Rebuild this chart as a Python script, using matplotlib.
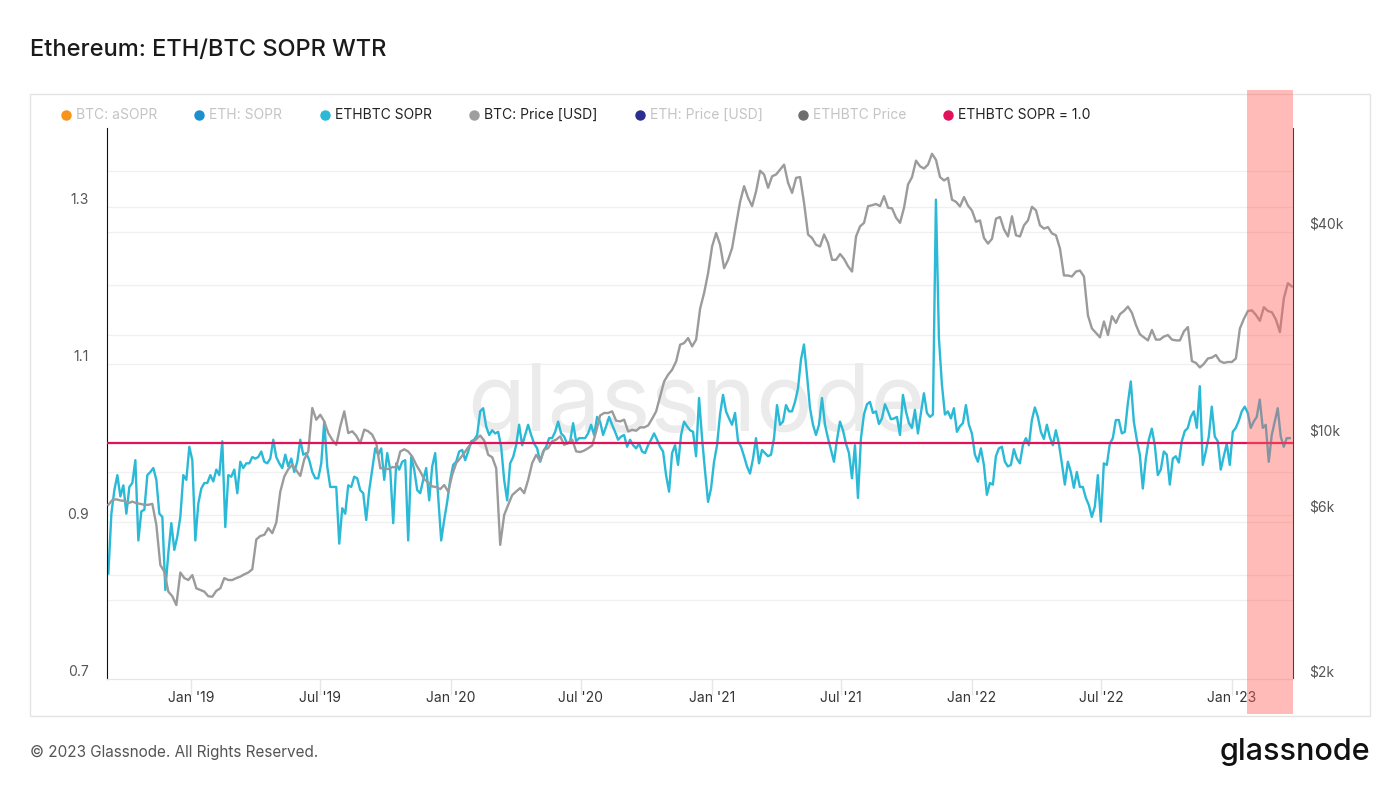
import pandas as pd
import matplotlib
matplotlib.use("Agg")
import matplotlib.pyplot as plt
import matplotlib.dates as mdates
from matplotlib.lines import Line2D
from matplotlib.patches import Rectangle
from matplotlib.ticker import FixedLocator, NullLocator, FuncFormatter

plt.rcParams["font.family"] = ["Inter", "DejaVu Sans"]

# ETH/BTC SOPR (one value every ~4 days)
ethbtc_sopr = [
    0.834, 0.910, 0.940, 0.959, 0.932, 0.946, 0.910, 0.944, 0.949, 0.978,
    0.876, 0.913, 0.915, 0.959, 0.963, 0.968, 0.953, 0.910, 0.906, 0.813,
    0.860, 0.898, 0.864, 0.881, 0.906, 0.959, 0.953, 0.995, 0.978, 0.876,
    0.923, 0.942, 0.949, 0.949, 0.959, 0.951, 0.966, 0.959, 1.002, 0.893,
    0.959, 0.957, 0.966, 0.936, 0.976, 0.968, 0.974, 0.974, 0.982, 0.980,
    0.982, 0.989, 0.976, 0.974, 0.980, 1.004, 0.982, 0.974, 0.968, 0.985,
    0.970, 0.980, 0.963, 0.976, 1.004, 0.985, 0.987, 0.978, 0.963, 0.955,
    # 2019 H2
    0.955, 0.974, 1.027, 0.970, 0.944, 0.944, 0.944, 0.872, 0.917, 0.910,
    0.946, 0.944, 0.957, 0.955, 0.940, 0.936, 0.902, 0.940, 0.966, 0.993,
    0.985, 0.993, 0.953, 0.987, 0.966, 0.898, 0.974, 0.966, 0.976, 0.978,
    0.876, 0.982, 0.966, 0.940, 0.936, 0.953, 0.968, 0.927, 0.970, 0.987,
    0.932, 0.876, 0.902, 0.925, 0.953, 0.972, 0.976, 0.989, 0.991, 0.978,
    0.989, 1.002, 1.004, 1.010, 1.040, 1.044, 1.021, 1.010, 1.016, 1.012,
    1.014, 0.995, 0.953, 0.927, 0.974, 0.982,
    # 2020
    0.997, 1.023, 0.997, 1.010, 1.023, 1.010, 0.999, 0.993, 0.976, 0.989,
    0.995, 1.006, 1.006, 1.014, 1.027, 1.012, 1.008, 0.999, 1.002, 1.025,
    1.002, 1.006, 1.006, 1.006, 1.012, 1.023, 1.010, 1.033, 1.027, 1.010,
    1.021, 1.033, 1.023, 1.014, 1.004, 1.008, 1.010, 0.995, 1.004, 0.997,
    0.993, 0.999, 0.989, 0.987, 0.997, 1.004, 1.012, 1.004, 0.995, 0.989,
    0.959, 0.938, 0.987, 0.997, 0.972, 1.010, 1.027, 1.021, 1.016, 1.014,
    0.983, 1.057, 1.006, 0.964, 0.925, 0.942, 0.976, 0.997, 1.036, 1.061,
    # 2021
    1.040, 1.031, 1.023, 1.038, 1.002, 0.995, 0.983, 0.970, 0.961, 0.980,
    1.006, 0.974, 0.991, 0.987, 0.983, 0.985, 1.006, 1.048, 1.023, 1.027,
    1.048, 1.040, 1.040, 1.052, 1.069, 1.106, 1.125, 1.086, 1.044, 1.023,
    1.010, 1.023, 1.057, 1.023, 1.006, 0.991, 0.976, 1.004, 1.027, 1.016,
    0.999, 0.987, 0.955, 0.997, 0.930, 1.006, 1.036, 1.049, 1.052, 1.038,
    1.040, 1.024, 1.031, 1.049, 1.040, 1.030, 1.031, 1.033, 1.010, 1.061,
    1.040, 1.025, 1.019, 1.042, 1.012, 1.038, 1.063, 1.038,
    # late 2021 - 2022
    1.033, 1.036, 1.309, 1.133, 1.074, 1.036, 1.040, 1.031, 1.044, 1.014,
    1.021, 1.025, 1.048, 1.023, 1.012, 0.985, 0.976, 0.993, 0.972, 0.934,
    0.949, 0.947, 0.983, 0.993, 0.995, 0.976, 0.970, 0.972, 0.992, 0.980,
    0.974, 0.997, 1.006, 0.997, 1.029, 1.045, 1.033, 1.014, 1.005, 1.023,
    1.007, 0.997, 1.016, 0.999, 0.974, 0.947, 0.976, 0.963, 0.943, 0.963,
    0.944, 0.944, 0.930, 0.921, 0.906, 0.919, 0.959, 0.900, 0.974, 0.972,
    0.999, 1.006, 1.029, 1.029, 1.012, 1.014, 1.050, 1.078,
    # late 2022 - 2023
    1.027, 1.004, 0.985, 0.942, 0.980, 1.004, 1.018, 0.997, 0.959, 0.966,
    0.989, 0.985, 0.947, 0.980, 0.983, 0.975, 1.002, 1.015, 1.019, 1.033,
    1.040, 1.019, 1.072, 0.972, 0.989, 1.008, 1.046, 1.008, 1.002, 0.966,
    0.983, 0.999, 0.972, 1.014, 1.019, 1.028, 1.040, 1.046, 1.038, 1.019,
    1.027, 1.033, 1.055, 1.019, 1.023, 0.976, 1.010, 1.027, 1.044, 1.008,
    0.995, 1.006, 1.006,
]

# BTC price in thousands of USD (one value every ~5.6 days)
btc_price_k = [
    6.42, 6.63, 6.66, 6.61, 6.59, 6.49, 6.56, 6.49, 6.46, 6.42,
    6.42, 6.46, 5.61, 4.29, 4.10, 3.59, 3.48, 3.28, 4.08, 3.93,
    3.88, 4.01, 3.67, 3.63, 3.59, 3.48, 3.47, 3.61, 3.67, 3.93,
    3.88, 3.88, 3.93, 3.97, 4.03, 4.08, 4.17, 5.09, 5.21, 5.25,
    5.49, 5.31, 5.70, 7.01, 7.76, 8.15, 8.39, 8.08, 7.79, 8.71,
    9.17, 12.27,
    11.35, 11.73, 11.22, 10.38, 9.92, 9.59, 10.85, 12.0, 10.38, 10.50,
    10.19, 9.70, 10.62, 10.50, 10.26, 9.70, 8.20, 8.20, 8.15, 8.26,
    8.26, 9.17, 9.31, 9.17, 8.87, 8.39, 8.02, 7.62, 7.45, 7.26,
    7.23, 7.13, 7.33, 7.01, 7.85, 8.49, 8.77, 9.08, 9.44, 9.74,
    9.96, 10.21, 9.87, 8.97, 8.83, 8.20, 4.91, 6.00, 6.42, 6.85,
    7.02, 7.18, 6.94, 7.59, 8.49, 8.97, 8.59, 9.28, 9.38, 9.82,
    9.93, 10.15, 9.59, 9.70, 9.93, 9.18, 9.14, 9.23, 9.38, 9.55,
    10.49, 11.68, 11.87, 11.87, 12.0, 11.27, 11.22, 11.35, 10.49, 10.61,
    10.54, 10.78, 10.78, 10.92, 11.42, 12.0, 13.28, 14.66, 15.34, 15.86,
    16.76, 18.75, 18.96, 19.60, 18.54, 19.39, 23.88, 26.51, 30.3, 36.2,
    39.6, 36.6, 31.3,
    33.1, 35.8, 41.9, 48.8, 54.2, 50.1, 47.4, 52.4, 60.1, 58.6,
    53.6, 57.9, 58.6, 60.6, 62.6, 55.4, 51.8, 57.3, 57.6, 48.4,
    39.2, 38.3, 36.6, 36.2, 39.2, 37.0, 33.1, 33.1, 34.4, 33.3,
    31.7, 30.6, 38.7, 41.4, 42.4, 47.4, 47.7, 48.1, 47.4, 50.7,
    46.9, 46.7, 43.9, 42.4, 46.9, 54.8, 57.6, 64.3, 61.9, 61.0,
    62.6,
    67.3, 64.6, 57.6, 56.3, 57.3, 49.5, 48.8, 47.3, 50.4, 47.6,
    46.0, 42.7, 43.1, 38.3, 36.9, 38.1, 43.6, 44.1, 40.6, 38.7,
    44.3, 39.0, 38.7, 41.7, 43.1, 47.2, 46.1, 41.7, 40.8, 41.2,
    39.5, 39.0, 35.7, 29.8, 29.8, 29.6, 30.6, 30.8, 29.6, 22.8,
    20.9, 20.3, 19.7, 21.9, 20.0, 22.7, 21.7, 23.0, 23.5, 24.2,
    23.2,
    21.4, 20.1, 19.7, 19.3, 20.7, 19.4, 19.4, 19.8, 20.0, 19.4,
    19.3, 19.3, 20.5, 21.1, 16.8, 16.6, 16.1, 16.5, 17.1, 17.2,
    17.5, 16.8, 16.6, 16.7, 16.7, 17.1, 20.9, 22.3, 23.5, 23.6,
    22.9, 22.0, 24.1, 23.5, 23.3, 22.2, 20.4, 25.6, 28.3, 27.7,
]

sopr_dates = pd.date_range("2018-09-07", "2023-03-23", periods=len(ethbtc_sopr))
price_dates = pd.date_range("2018-09-07", "2023-03-26", periods=len(btc_price_k))
btc_price = [v * 1000 for v in btc_price_k]

sopr_ticks = [0.7, 0.9, 1.1, 1.3]
sopr_grid = [0.8, 0.9, 1.1, 1.2, 1.3]
price_ticks = [2000, 6000, 10000, 40000]
price_tick_labels = ["$2k", "$6k", "$10k", "$40k"]
price_grid = [4000, 6000, 8000, 20000, 40000, 60000]

legend_items = [
    ("BTC: aSOPR", "#f7931a", False),
    ("ETH: SOPR", "#1b8fcf", False),
    ("ETHBTC SOPR", "#2ab9d6", True),
    ("BTC: Price [USD]", "#9e9e9e", True),
    ("ETH: Price [USD]", "#2a2f8f", False),
    ("ETHBTC Price", "#6e6e6e", False),
    ("ETHBTC SOPR = 1.0", "#e3105a", True),
]
legend_x = [66, 199, 325, 474, 640, 803, 948]

W, H = 1400, 788


def fx(px):
    return px / W


def fy(py):
    return 1 - py / H


fig = plt.figure(figsize=(14, 7.88), dpi=100)

# outer frame
fig.add_artist(Rectangle((fx(30), fy(716)), (1370 - 30) / W, (716 - 94) / H,
                         transform=fig.transFigure, fill=False,
                         edgecolor="#e4e4e4", linewidth=1))

ax = fig.add_axes([fx(107), fy(679), (1293 - 107) / W, (679 - 128) / H])
ax2 = ax.twinx()

ax.set_xlim(mdates.date2num(pd.Timestamp("2018-09-05 02:00")),
            mdates.date2num(pd.Timestamp("2023-03-27 14:00")))
ax.set_ylim(0.7, 1.4)
ax2.set_yscale("log")
ax2.set_ylim(2000, 80000)

# faint gridlines, all kept below the series
for v in sopr_grid:
    ax.axhline(v, color="#f0f0f0", linewidth=1, zorder=0)
for v in price_grid:
    ax.add_line(Line2D([0, 1], [v, v], transform=ax2.get_yaxis_transform(),
                       color="#f0f0f0", linewidth=1, zorder=0))

ax.text(0.497, 0.45, "glassnode", transform=ax.transAxes, ha="center",
        va="baseline", fontsize=68, color="#ebebeb", zorder=1)

ax.plot(sopr_dates, ethbtc_sopr, color="#2ab9d6", linewidth=1.7, zorder=2)
ax2.plot(price_dates, btc_price, color="#9b9b9b", linewidth=1.7, zorder=3)
ax2.add_line(Line2D([0, 1], [1.0, 1.0], transform=ax.get_yaxis_transform(),
                    color="#e3105a", linewidth=1.6, zorder=4))

for a in (ax, ax2):
    a.spines["top"].set_visible(False)
    a.spines["bottom"].set_color("#e6e6e6")
ax.spines["right"].set_visible(False)
ax2.spines["left"].set_visible(False)
ax.spines["left"].set_color("#111111")
ax2.spines["right"].set_color("#444444")

ax.xaxis.set_major_locator(mdates.MonthLocator(bymonth=[1, 7]))
ax.xaxis.set_major_formatter(
    FuncFormatter(lambda x, pos: mdates.num2date(x).strftime("%b '%y")))
ax.tick_params(axis="x", length=11.5, width=1, color="#e6e6e6",
               labelsize=10, labelcolor="#333333", pad=-3)

ax.yaxis.set_major_locator(FixedLocator(sopr_ticks))
ax.yaxis.set_major_formatter(FuncFormatter(lambda v, pos: f"{v:.1f}"))
ax.tick_params(axis="y", length=0, pad=13, labelsize=10, labelcolor="#555555")
for lbl in ax.get_yticklabels():
    lbl.set_verticalalignment("bottom")

ax2.yaxis.set_major_locator(FixedLocator(price_ticks))
ax2.yaxis.set_minor_locator(NullLocator())
ax2.set_yticklabels(price_tick_labels)
ax2.tick_params(axis="y", which="both", length=0, pad=11.5, labelsize=10,
                labelcolor="#555555")
for lbl in ax2.get_yticklabels():
    lbl.set_verticalalignment("bottom")

# legend row
for (label, color, active), x in zip(legend_items, legend_x):
    fig.add_artist(Line2D([fx(x)], [fy(115)], marker="o", markersize=6.5,
                          color=color, linestyle="none",
                          transform=fig.transFigure))
    fig.text(fx(x + 10), fy(115), label, ha="left", va="center", fontsize=10,
             color="#222222" if active else "#c4c4c4")

# highlighted recent period
fig.add_artist(Rectangle((fx(1246.5), fy(714)), (1293 - 1246.5) / W, (714 - 90) / H,
                         transform=fig.transFigure, facecolor=(1.0, 0.39, 0.35),
                         alpha=0.43, edgecolor="none", zorder=10))

fig.text(fx(30), fy(50), "Ethereum: ETH/BTC SOPR WTR", ha="left", va="center",
         fontsize=17, fontweight=500, color="#1a1a1a")
fig.text(fx(30), fy(752), "© 2023 Glassnode. All Rights Reserved.", ha="left",
         va="center", fontsize=11, color="#555555")
fig.text(fx(1370), fy(760), "glassnode", ha="right", va="baseline",
         fontsize=22, fontweight=500, color="#111111")

fig.savefig("out.png", dpi=100)
